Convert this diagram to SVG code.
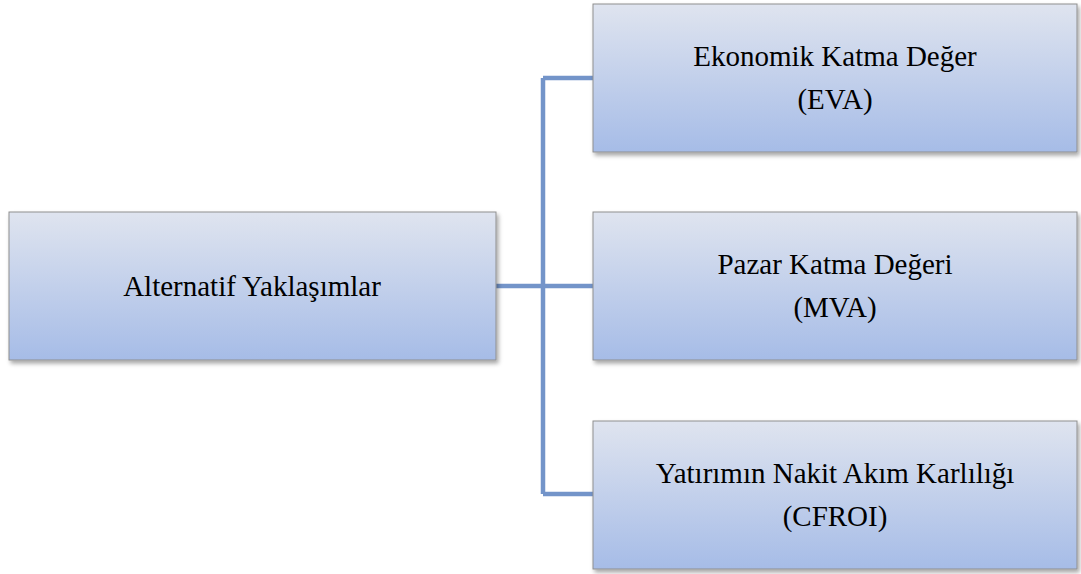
<svg xmlns="http://www.w3.org/2000/svg" width="1081" height="574" viewBox="0 0 1081 574">
<defs>
<linearGradient id="g" x1="0" y1="0" x2="0" y2="1">
<stop offset="0" stop-color="#dfe4ef"/>
<stop offset="1" stop-color="#a6bce7"/>
</linearGradient>
<filter id="sh" x="-5%" y="-5%" width="110%" height="115%">
<feDropShadow dx="2" dy="3" stdDeviation="2" flood-color="#000" flood-opacity="0.35"/>
</filter>
<style>
.box{fill:url(#g);stroke:#8f8f8f;stroke-width:1;filter:url(#sh)}
.t{font-family:"Liberation Serif","Times New Roman",serif;font-size:29px;fill:#000;text-anchor:middle}
.c{fill:none;stroke:#7394c9;stroke-width:4.5}
</style>
</defs>
<rect width="1081" height="574" fill="#fff"/>
<g id="connectors">
<path class="c" d="M496 286H543M543 78V494M543 78H593M543 286H593M543 494H593"/>
</g>
<g id="root">
<rect class="box" x="9" y="212" width="487" height="148"/>
<text class="t" x="252" y="296">Alternatif Yaklaşımlar</text>
</g>
<g id="eva">
<rect class="box" x="593" y="4" width="484" height="148"/>
<text class="t" x="835" y="66">Ekonomik Katma Değer</text>
<text class="t" x="835" y="109">(EVA)</text>
</g>
<g id="mva">
<rect class="box" x="593" y="212" width="484" height="148"/>
<text class="t" x="835" y="274">Pazar Katma Değeri</text>
<text class="t" x="835" y="317">(MVA)</text>
</g>
<g id="cfroi">
<rect class="box" x="593" y="421" width="484" height="148"/>
<text class="t" x="835" y="483">Yatırımın Nakit Akım Karlılığı</text>
<text class="t" x="835" y="526">(CFROI)</text>
</g>
</svg>
